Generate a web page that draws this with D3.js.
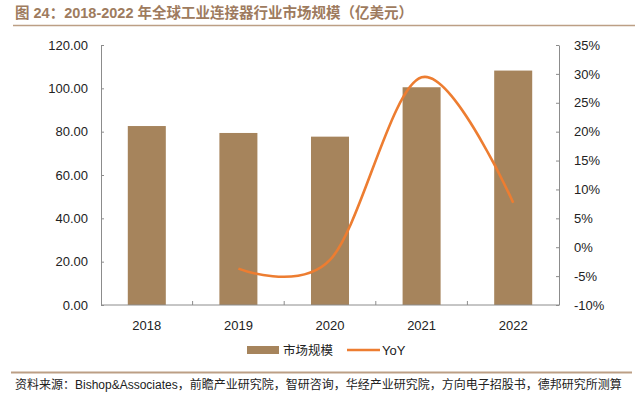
<!DOCTYPE html>
<html>
<head>
<meta charset="utf-8">
<script src="https://cdn.jsdelivr.net/npm/d3@7"></script>
<style>
  body { margin: 0; background: #fff; }
  svg { display: block; font-family: "Liberation Sans", Arial, sans-serif; }
</style>
</head>
<body>
<svg id="drawing_region"></svg>
<script>
const years = ["2018", "2019", "2020", "2021", "2022"];
const marketSize = [82.6, 79.4, 77.7, 100.5, 108.2];
const yoyYears = ["2019", "2020", "2021", "2022"];
const yoyValues = [-3.7, -2.2, 29.4, 7.7];
const leftTicks = [0, 20, 40, 60, 80, 100, 120];
const rightTicks = [-10, -5, 0, 5, 10, 15, 20, 25, 30, 35];

const titleText = "图 24：2018-2022 年全球工业连接器行业市场规模（亿美元）";
const sourceText = "资料来源：Bishop&Associates，前瞻产业研究院，智研咨询，华经产业研究院，方向电子招股书，德邦研究所测算";
const legendNames = ["市场规模", "YoY"];

const config = {
    width: 642,
    height: 397,
    margin: {top: 45, right: 83, bottom: 92, left: 101}
};
const barColor = "#a6845c";
const lineColor = "#ed7d31";
const axisColor = "#8c8c8c";
const mixFont = '"Liberation Sans", "Noto Sans CJK SC", sans-serif';
const cjkFont = '"Noto Sans CJK SC", sans-serif';

const svg = d3.select("#drawing_region")
    .attr("width", config.width)
    .attr("height", config.height);

const inner_width = config.width - config.margin.left - config.margin.right;
const inner_height = config.height - config.margin.top - config.margin.bottom;

// title + rules
svg.append("text")
    .attr("x", 15)
    .attr("y", 18)
    .attr("font-size", "14.5px")
    .attr("font-weight", "bold")
    .attr("font-family", mixFont)
    .attr("fill", "#9e7b5e")
    .text(titleText);

svg.append("line")
    .attr("x1", 13).attr("x2", 635)
    .attr("y1", 25.5).attr("y2", 25.5)
    .attr("stroke", "#bc9f85")
    .attr("stroke-width", 1.5);

svg.append("line")
    .attr("x1", 11).attr("x2", 632)
    .attr("y1", 372.5).attr("y2", 372.5)
    .attr("stroke", "#bc9f85")
    .attr("stroke-width", 2);

svg.append("text")
    .attr("x", 15)
    .attr("y", 389)
    .attr("font-size", "12px")
    .attr("font-family", mixFont)
    .attr("fill", "#222")
    .text(sourceText);

const chart = svg.append("g")
    .attr("transform", `translate(${config.margin.left}, ${config.margin.top})`);

const xscale = d3.scaleBand()
    .domain(years)
    .range([0, inner_width])
    .paddingInner(0.585)
    .paddingOuter(0.2925);

const yscale = d3.scaleLinear()
    .domain([0, 120])
    .range([inner_height, 0]);

const y2scale = d3.scaleLinear()
    .domain([-10, 35])
    .range([inner_height, 0]);

// bars
chart.selectAll("rect.bar")
    .data(years)
    .enter()
    .append("rect")
    .attr("class", "bar")
    .attr("x", d => xscale(d))
    .attr("y", (d, i) => yscale(marketSize[i]))
    .attr("width", xscale.bandwidth())
    .attr("height", (d, i) => inner_height - yscale(marketSize[i]))
    .attr("fill", barColor);

// axes
const yaxis = d3.axisLeft(yscale)
    .tickValues(leftTicks)
    .tickFormat(d3.format(".2f"))
    .tickSizeInner(-3)
    .tickSizeOuter(0)
    .tickPadding(13);

const y2axis = d3.axisRight(y2scale)
    .tickValues(rightTicks)
    .tickFormat(d => d + "%")
    .tickSizeInner(-3)
    .tickSizeOuter(0)
    .tickPadding(15);

chart.append("g").call(yaxis);
chart.append("g")
    .attr("transform", `translate(${inner_width}, 0)`)
    .call(y2axis);

// x axis: ticks at band boundaries
const xaxis_group = chart.append("g")
    .attr("transform", `translate(0, ${inner_height})`);
xaxis_group.append("line")
    .attr("x1", 0).attr("x2", inner_width)
    .attr("stroke", axisColor);
xaxis_group.selectAll("line.tick")
    .data(years.slice(1))
    .enter()
    .append("line")
    .attr("x1", d => xscale(d) - xscale.step() * xscale.paddingInner() / 2)
    .attr("x2", d => xscale(d) - xscale.step() * xscale.paddingInner() / 2)
    .attr("y1", 0).attr("y2", -4)
    .attr("stroke", axisColor);
xaxis_group.selectAll("text")
    .data(years)
    .enter()
    .append("text")
    .attr("x", d => xscale(d) + xscale.bandwidth() / 2)
    .attr("y", 25)
    .attr("text-anchor", "middle")
    .attr("font-size", "13px")
    .attr("fill", "#222")
    .text(d => d);

chart.selectAll(".domain, .tick line").attr("stroke", axisColor);
chart.selectAll(".tick text").attr("font-size", "13px").attr("fill", "#222");

// YoY line
const line = d3.line()
    .x((d, i) => xscale(yoyYears[i]) + xscale.bandwidth() / 2)
    .y(d => y2scale(d))
    .curve(d3.curveCardinal.tension(0));

chart.append("path")
    .datum(yoyValues)
    .attr("d", line)
    .attr("fill", "none")
    .attr("stroke", lineColor)
    .attr("stroke-width", 2.6);

// legend
const legend = svg.append("g").attr("transform", "translate(247, 350)");
legend.append("rect")
    .attr("x", 0).attr("y", -4)
    .attr("width", 32).attr("height", 8)
    .attr("fill", barColor);
legend.append("text")
    .attr("x", 36).attr("y", 4.5)
    .attr("font-size", "12.5px")
    .attr("font-family", cjkFont)
    .attr("fill", "#222")
    .text(legendNames[0]);
legend.append("line")
    .attr("x1", 100).attr("x2", 133)
    .attr("y1", 0).attr("y2", 0)
    .attr("stroke", lineColor)
    .attr("stroke-width", 2.6);
legend.append("text")
    .attr("x", 135).attr("y", 5)
    .attr("font-size", "13px")
    .attr("fill", "#222")
    .text(legendNames[1]);
</script>
</body>
</html>
